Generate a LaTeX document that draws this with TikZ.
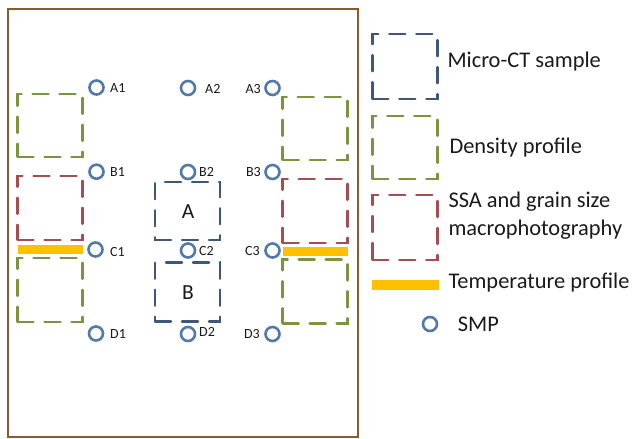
\documentclass[tikz,border=0pt]{standalone}
\usepackage{fontspec}
\setmainfont{Carlito}
\definecolor{frame}{HTML}{8C5A2E}
\definecolor{smp}{HTML}{5079AC}
\definecolor{dens}{HTML}{7A9440}
\definecolor{ssa}{HTML}{A34E52}
\definecolor{mct}{HTML}{3F5779}
\definecolor{temp}{HTML}{FFC000}
\definecolor{txt}{HTML}{1A1A1A}
\tikzset{
  smpc/.style={circle,draw=smp,line width=2.6pt,minimum size=14pt,inner sep=0pt},
  dbox/.style={rectangle,draw,line width=2.5pt,dash pattern=on 16pt off 11pt,line cap=round,inner sep=0pt},
  densbox/.style={dbox,draw=dens},
  ssabox/.style={dbox,draw=ssa},
  mctbox/.style={dbox,draw=mct},
  tbar/.style={rectangle,fill=temp,inner sep=0pt},
  lbl/.style={font=\fontsize{14}{16}\selectfont,text=txt,inner sep=0pt},
  leg/.style={font=\fontsize{22.4}{26}\selectfont,text=txt,inner sep=0pt,anchor=base west},
  big/.style={font=\fontsize{21.5}{24}\selectfont,text=txt,inner sep=0pt,anchor=base}
}
\begin{document}
\begin{tikzpicture}[x=1pt,y=-1pt]
\useasboundingbox (0,0) rectangle (632,439);
\fill[white] (0,0) rectangle (632,439);
\node[draw=frame,line width=2.5pt,rectangle,minimum width=350pt,minimum height=428pt,inner sep=0pt] (frame) at (183,223) {};
% sample boxes
\node[densbox,minimum width=65pt,minimum height=63pt] (lg1) at (50,125.3) {};
\node[ssabox,minimum width=65pt,minimum height=64pt] (lr) at (50,207.8) {};
\node[tbar,minimum width=65pt,minimum height=9pt] (ly) at (50.2,249) {};
\node[densbox,minimum width=65pt,minimum height=64pt] (lg2) at (50,289.8) {};
\node[densbox,minimum width=65pt,minimum height=63pt] (rg1) at (315.2,128.3) {};
\node[ssabox,minimum width=65pt,minimum height=64pt] (rr) at (315.2,210.8) {};
\node[tbar,minimum width=65.6pt,minimum height=9pt] (ry) at (315.5,251) {};
\node[densbox,minimum width=65pt,minimum height=64pt] (rg2) at (315.2,291.3) {};
\node[mctbox,minimum width=65pt,minimum height=58pt] (ba) at (187.5,211.2) {};
\node[mctbox,minimum width=65pt,minimum height=59pt] (bb) at (187.5,292.2) {};
\node[big] (ta) at (188,218.5) {A};
\node[big] (tb) at (188,299.5) {B};
% SMP points
\node[smpc] (A1) at (96.5,87.5) {};
\node[smpc] (A2) at (188,88) {};
\node[smpc] (A3) at (272.5,88) {};
\node[smpc] (B1) at (96.5,171.7) {};
\node[smpc] (B2) at (188,172) {};
\node[smpc] (B3) at (272.5,172) {};
\node[smpc] (C1) at (95.5,249.5) {};
\node[smpc] (C2) at (188,250.5) {};
\node[smpc] (C3) at (272.5,250.5) {};
\node[smpc] (D1) at (96,333.5) {};
\node[smpc] (D2) at (188,334) {};
\node[smpc] (D3) at (272.5,334) {};
\node[lbl,anchor=base west] (lA1) at (110,92.5) {A1};
\node[lbl,anchor=base west] (lA2) at (205,93) {A2};
\node[lbl,anchor=base east] (lA3) at (261,93) {A3};
\node[lbl,anchor=base west] (lB1) at (110,176.7) {B1};
\node[lbl,anchor=base west] (lB2) at (199,176.7) {B2};
\node[lbl,anchor=base east] (lB3) at (261,176.7) {B3};
\node[lbl,anchor=base west] (lC1) at (110,256.5) {C1};
\node[lbl,anchor=base west] (lC2) at (199,255) {C2};
\node[lbl,anchor=base east] (lC3) at (260,255) {C3};
\node[lbl,anchor=base west] (lD1) at (110,338.3) {D1};
\node[lbl,anchor=base west] (lD2) at (199,336.7) {D2};
\node[lbl,anchor=base east] (lD3) at (260,338.3) {D3};
% legend
\node[mctbox,minimum width=65pt,minimum height=65pt] (kmct) at (404.8,66.7) {};
\node[leg] (tmct) at (447.3,67) {Micro-CT sample};
\node[densbox,minimum width=65pt,minimum height=63pt] (kden) at (404.8,147.3) {};
\node[leg] (tden) at (449.3,153.3) {Density profile};
\node[ssabox,minimum width=65pt,minimum height=65pt] (kssa) at (404.8,227.5) {};
\node[leg] (tssa1) at (448.3,207) {SSA and grain size};
\node[leg] (tssa2) at (448.3,235) {macrophotography};
\node[tbar,minimum width=67pt,minimum height=10pt] (ktemp) at (405.8,285.3) {};
\node[leg] (ttemp) at (448.3,288.3) {Temperature profile};
\node[smpc] (ksmp) at (430,324) {};
\node[leg] (tsmp) at (457.7,331) {SMP};
\end{tikzpicture}
\end{document}
